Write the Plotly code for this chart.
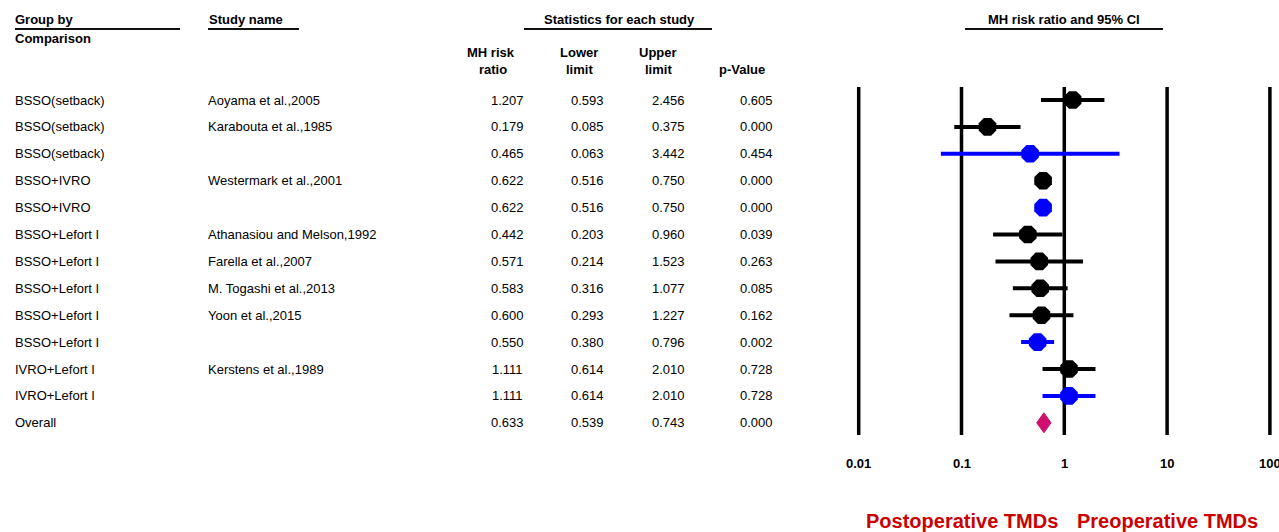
import math
import plotly.graph_objects as go

# ---------------- data ----------------
groups = ["BSSO(setback)", "BSSO(setback)", "BSSO(setback)", "BSSO+IVRO", "BSSO+IVRO",
          "BSSO+Lefort I", "BSSO+Lefort I", "BSSO+Lefort I", "BSSO+Lefort I", "BSSO+Lefort I",
          "IVRO+Lefort I", "IVRO+Lefort I", "Overall"]
studies = ["Aoyama et al.,2005", "Karabouta et al.,1985", "", "Westermark et al.,2001", "",
           "Athanasiou and Melson,1992", "Farella et al.,2007", "M. Togashi et al.,2013",
           "Yoon et al.,2015", "", "Kerstens et al.,1989", "", ""]
risk_ratio = [1.207, 0.179, 0.465, 0.622, 0.622, 0.442, 0.571, 0.583, 0.600, 0.550, 1.111, 1.111, 0.633]
lower_limit = [0.593, 0.085, 0.063, 0.516, 0.516, 0.203, 0.214, 0.316, 0.293, 0.380, 0.614, 0.614, 0.539]
upper_limit = [2.456, 0.375, 3.442, 0.750, 0.750, 0.960, 1.523, 1.077, 1.227, 0.796, 2.010, 2.010, 0.743]
p_values = ["0.605", "0.000", "0.454", "0.000", "0.000", "0.039", "0.263", "0.085", "0.162",
            "0.002", "0.728", "0.728", "0.000"]
row_kind = ["study", "study", "subtotal", "study", "subtotal", "study", "study", "study", "study",
            "subtotal", "study", "subtotal", "overall"]
tick_values = [0.01, 0.1, 1, 10, 100]
tick_labels = ["0.01", "0.1", "1", "10", "100"]
favours = [(0.1, "Postoperative TMDs"), (10, "Preoperative TMDs")]

# ---------------- layout helpers ----------------
W, H = 1279, 532
ROW0, ROWH = 100.0, 26.9           # pixel y of first row, row spacing


def v(py):                         # pixel y -> y-axis value
    return (py - ROW0) / ROWH


def px(x):                         # pixel x -> paper x
    return x / W


FONT = "Liberation Sans, Arial, sans-serif"
BLACK, BLUE, PINK = "#000000", "#0000FF", "#D0106E"

fig = go.Figure()

n = len(risk_ratio)
rows = list(range(n))

# reference lines at each decade
for t in tick_values:
    fig.add_trace(go.Scatter(x=[t, t], y=[v(87), v(435)], mode="lines",
                             line=dict(color=BLACK, width=3.5), hoverinfo="skip",
                             showlegend=False))

# confidence interval lines and point markers
for kind, col in (("study", BLACK), ("subtotal", BLUE)):
    xs, ys, mx, my = [], [], [], []
    for i in rows:
        if row_kind[i] != kind:
            continue
        xs += [lower_limit[i], upper_limit[i], None]
        ys += [i, i, None]
        mx.append(risk_ratio[i])
        my.append(i)
    fig.add_trace(go.Scatter(x=xs, y=ys, mode="lines", line=dict(color=col, width=4),
                             hoverinfo="skip", showlegend=False))
    fig.add_trace(go.Scatter(x=mx, y=my, mode="markers",
                             marker=dict(symbol="octagon", size=19, color=col,
                                         line=dict(width=0)),
                             showlegend=False))

# overall diamond spanning the CI
for i in rows:
    if row_kind[i] == "overall":
        h = 0.37
        fig.add_trace(go.Scatter(
            x=[lower_limit[i], risk_ratio[i], upper_limit[i], risk_ratio[i], lower_limit[i]],
            y=[i, i - h, i, i + h, i], mode="lines", fill="toself",
            fillcolor=PINK, line=dict(color=PINK, width=1), showlegend=False))

ann = []


def text(x, y, s, size=13, bold=False, color=BLACK, anchor="center", xref="paper"):
    ann.append(dict(x=x, y=y, xref=xref, yref="y", text=("<b>%s</b>" % s) if bold else s,
                    showarrow=False, xanchor=anchor, yanchor="middle",
                    font=dict(family=FONT, size=size, color=color)))


# headers
text(px(13), v(19), "Group by", bold=True, anchor="left")
text(px(13), v(38), "Comparison", bold=True, anchor="left")
text(px(207), v(19), "Study name", bold=True, anchor="left")
text(px(619), v(19), "Statistics for each study", bold=True)
text(px(491), v(52), "MH risk", bold=True)
text(px(493), v(69), "ratio", bold=True)
text(px(579), v(52), "Lower", bold=True)
text(px(579), v(69), "limit", bold=True)
text(px(658), v(52), "Upper", bold=True)
text(px(658), v(69), "limit", bold=True)
text(px(742), v(69), "p-Value", bold=True)
text(px(1064), v(19), "MH risk ratio and 95% CI", bold=True)

shapes = []
for x0, x1 in ((15, 180), (208, 299), (524, 712), (965, 1163)):
    shapes.append(dict(type="line", xref="paper", yref="y", x0=px(x0), x1=px(x1),
                       y0=v(29), y1=v(29), line=dict(color="#111111", width=2)))

# table rows
for i in rows:
    text(px(13), i, groups[i], anchor="left")
    if studies[i]:
        text(px(206), i, studies[i], anchor="left")
    text(px(507), i, "%.3f" % risk_ratio[i])
    text(px(587), i, "%.3f" % lower_limit[i])
    text(px(668), i, "%.3f" % upper_limit[i])
    text(px(756), i, p_values[i])

# axis tick labels
for t, lab in zip(tick_values, tick_labels):
    text(math.log10(t), v(463), lab, bold=True, xref="x")

# favours labels
for t, lab in favours:
    text(math.log10(t), v(521), lab, size=20, bold=True, color="#CC0000", xref="x")

scale = 102.8
x_center = 1064.3
lo, hi = -2.05, 2.05
dom = [(x_center + lo * scale) / W, (x_center + hi * scale) / W]

fig.update_layout(
    width=W, height=H, margin=dict(l=0, r=0, t=0, b=0),
    paper_bgcolor="white", plot_bgcolor="white",
    xaxis=dict(type="log", range=[lo, hi], domain=dom, showgrid=False, zeroline=False,
               showticklabels=False, ticks="", showline=False),
    yaxis=dict(range=[v(H), v(0)], domain=[0, 1], showgrid=False, zeroline=False,
               showticklabels=False, ticks="", showline=False),
    annotations=ann, shapes=shapes, showlegend=False,
)

fig.write_html("out.html", config={"displayModeBar": False},
               post_script="document.body.style.margin='0';"
                           "document.body.style.overflow='hidden';")
